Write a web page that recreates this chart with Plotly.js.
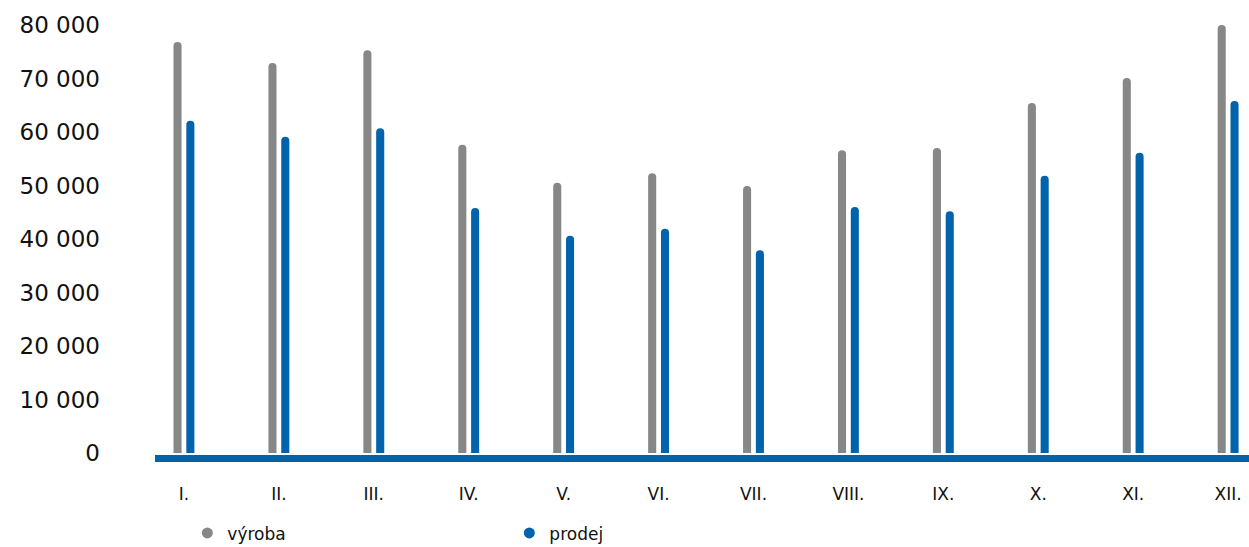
<!DOCTYPE html>
<html><head><meta charset="utf-8">
<script src="https://cdn.plot.ly/plotly-3.0.1.min.js"></script>
<style>html,body{margin:0;padding:0;background:#fff}#c{width:1249px;height:547px}</style>
</head><body><div id="c"></div>
<script>
const months = ['I.','II.','III.','IV.','V.','VI.','VII.','VIII.','IX.','X.','XI.','XII.'];
const vyroba = [76800, 72900, 75300, 57600, 50500, 52300, 49900, 56600, 57000, 65400, 70100, 80000];
const prodej = [62100, 59100, 60700, 45800, 40600, 41900, 37900, 46000, 45200, 51800, 56100, 65800];
const yTicks = [0, 10000, 20000, 30000, 40000, 50000, 60000, 70000, 80000];
const yTickText = ['0','10 000','20 000','30 000','40 000','50 000','60 000','70 000','80 000'];
const GRAY = '#878787', BLUE = '#0063AC';
const xi = months.map((m,i)=>i);
const traces = [
  {type:'bar', x:xi, y:vyroba, name:'výroba', showlegend:false, width:0.085, offset:-0.11,
   marker:{color:GRAY, cornerradius:4, line:{width:0}}, hoverinfo:'y'},
  {type:'bar', x:xi, y:prodej, name:'prodej', showlegend:false, width:0.085, offset:0.025,
   marker:{color:BLUE, cornerradius:4, line:{width:0}}, hoverinfo:'y'},
  {type:'scatter', mode:'markers', x:[null], y:[null], name:'výroba', marker:{color:GRAY, size:11}},
  {type:'scatter', mode:'markers', x:[null], y:[null], name:'prodej', marker:{color:BLUE, size:11}}
];
const layout = {
  width:1249, height:547,
  margin:{l:155, r:0, t:15, b:92},
  paper_bgcolor:'#fff', plot_bgcolor:'#fff',
  font:{family:'"DejaVu Sans", Verdana, sans-serif', color:'#111'},
  barmode:'overlay',
  showlegend:true,
  xaxis:{range:[-0.305, 11.22], tickvals:xi, ticktext:months, showgrid:false, zeroline:false,
    showline:true, linecolor:BLUE, linewidth:7, ticks:'', tickfont:{size:17}, ticklabelstandoff:18},
  yaxis:{range:[-374, 81870], tickvals:yTicks, ticktext:yTickText, showgrid:false, zeroline:false,
    showline:false, ticks:'', tickfont:{size:23}, ticklabelstandoff:54},
  legend:{orientation:'h', xref:'container', yref:'container', x:0.15, y:0.025, xanchor:'left', yanchor:'middle',
    entrywidth:277, entrywidthmode:'pixels', font:{size:17}, itemwidth:30}
};
Plotly.newPlot('c', traces, layout, {displayModeBar:false, staticPlot:true});
</script></body></html>
